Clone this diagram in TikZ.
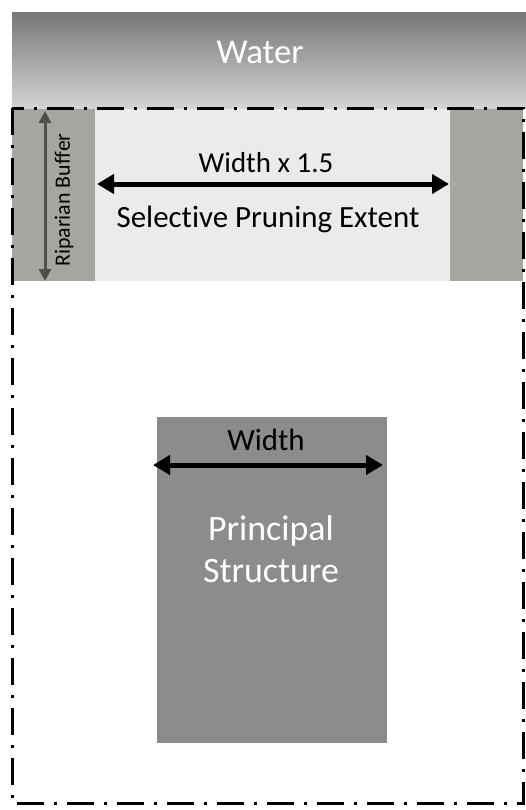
\documentclass[tikz,border=0pt]{standalone}
\usepackage{fontspec}
\setmainfont{Carlito}[Ligatures=NoCommon]
\usetikzlibrary{arrows.meta}
\definecolor{bandgray}{HTML}{A7A5A2}
\definecolor{prunegray}{HTML}{EBEBEB}
\definecolor{housegray}{HTML}{8C8C8C}
\definecolor{arrowgray}{HTML}{4F4F4F}
\tikzset{
	dimarrow/.style={line width=5bp, {Triangle[length=17bp,width=19bp]}-{Triangle[length=17bp,width=19bp]}},
	lotline/.style={line width=3bp, dash pattern=on 27bp off 10bp on 3bp off 10bp},
	label/.style={inner sep=0pt, anchor=base}
}

\begin{document}
\begin{tikzpicture}[x=1bp, y=-1bp]
		%%%%% START %%%%%
		\useasboundingbox[fill=white] (0, 0) rectangle (526, 810);
		
		% water
		\shade[top color=black!53, bottom color=black!17] (12, 13) rectangle (526, 108);
		\node[label, text=white, font=\fontsize{35}{42}\selectfont] (water) at (260, 64) {Water};
		
		% riparian buffer
		\fill[bandgray] (12, 109) rectangle (95, 281);
		\fill[prunegray] (95, 109) rectangle (450, 281);
		\fill[bandgray] (450, 109) rectangle (523, 281);
		
		\coordinate (buftop) at (45, 111);
		\coordinate (bufbot) at (45, 281);
		\draw[arrowgray, line width=3bp, {Triangle[length=12bp,width=12bp]}-{Triangle[length=12bp,width=12bp]}] (buftop) -- (bufbot);
		\node[inner sep=0pt, rotate=90, font=\fontsize{22}{26}\selectfont] (buffer) at (64, 200) {Riparian Buffer};
		
		\node[label, font=\fontsize{29}{35}\selectfont] (widthx) at (266, 172) {Width x 1.5};
		\coordinate (pruneleft) at (97, 184);
		\coordinate (pruneright) at (449, 184);
		\draw[dimarrow] (pruneleft) -- (pruneright);
		\node[label, font=\fontsize{31}{37}\selectfont] (pruning) at (268, 227) {Selective Pruning Extent};
		
		% principal structure
		\fill[housegray] (157, 417) rectangle (387, 743);
		\node[label, font=\fontsize{31}{37}\selectfont] (width) at (266, 450) {Width};
		\coordinate (houseleft) at (153, 465);
		\coordinate (houseright) at (383, 465);
		\draw[dimarrow] (houseleft) -- (houseright);
		\node[label, text=white, font=\fontsize{36}{43}\selectfont] (principal) at (271, 540) {Principal};
		\node[label, text=white, font=\fontsize{36}{43}\selectfont] (structure) at ([yshift=-42bp]principal.base) {Structure};
		
		% lot line
		\draw[lotline] (12, 108) rectangle (523, 803);
		%%%%% END %%%%%
\end{tikzpicture}
\end{document}
